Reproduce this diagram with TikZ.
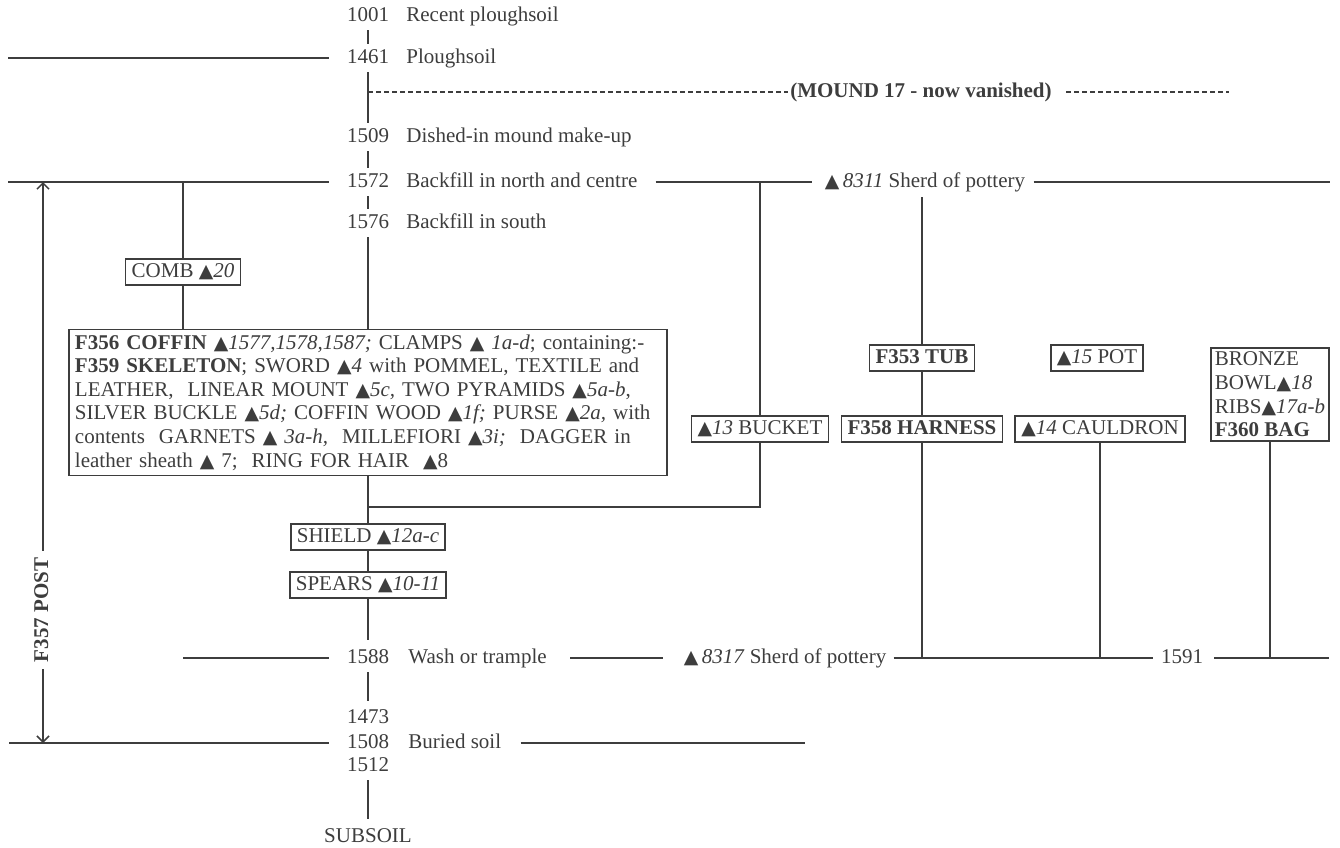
\documentclass[tikz,border=0pt]{standalone}
\usepackage{fontspec}
\setmainfont{Liberation Serif}
\newfontfamily\trifont[Scale=0.9]{DejaVu Sans}
\newcommand{\tri}{{\trifont ▲}}
\usetikzlibrary{arrows.meta}
\definecolor{ink}{gray}{0.24}

\begin{document}
\begin{tikzpicture}[x=0.5pt, y=-0.5pt,
    every node/.style={text=ink, font=\fontsize{10.5}{11.8}\selectfont},
    lbl/.style={inner sep=0pt, text height=7.4pt, text depth=2.2pt},
    num/.style={inner xsep=9pt, inner ysep=2pt, text height=7.4pt, text depth=2.2pt},
    find/.style={draw=ink, line width=0.8pt, inner xsep=3pt, inner ysep=1.6pt, text height=7.4pt, text depth=2.2pt},
    link/.style={draw=ink, line width=0.75pt}]
    \useasboundingbox (0,0) rectangle (1340,847);

    % Context numbers down the main column
    \node[num] (c1001) at (368,16) {1001};
    \node[num] (c1461) at (368,58) {1461};
    \node[num] (c1509) at (368,137) {1509};
    \node[num] (c1572) at (368,182) {1572};
    \node[num] (c1576) at (368,223) {1576};
    \node[num] (c1588) at (368,658) {1588};
    \node[num] (c1473) at (368,718) {1473};
    \node[num] (c1508) at (368,743) {1508};
    \node[num] (c1512) at (368,766) {1512};
    \node[num] (subsoil) at (368,837) {SUBSOIL};
    \node[lbl] (c1591) at (1182,658) {1591};

    % Their descriptions
    \node[lbl,anchor=west] (t1001) at (406,16) {Recent ploughsoil};
    \node[lbl,anchor=west] (t1461) at (406,58) {Ploughsoil};
    \node[lbl,anchor=west] (t1509) at (406,137) {Dished-in mound make-up};
    \node[lbl,anchor=west] (t1572) at (406,182) {Backfill in north and centre};
    \node[lbl,anchor=west] (t1576) at (406,223) {Backfill in south};
    \node[lbl,anchor=west] (t1588) at (408,658) {Wash or trample};
    \node[lbl,anchor=west] (t1508) at (408,743) {Buried soil};

    % Sherds and the vanished mound
    \node[lbl] (s8311) at (925,182) {\tri\,\textit{8311} Sherd of pottery};
    \node[lbl] (s8317) at (785,658) {\tri\,\textit{8317} Sherd of pottery};
    \node[lbl] (mound) at (921,92) {\textbf{(MOUND 17 - now vanished)}};

    % The grave and its finds
    \node[find] (comb) at (183,272) {COMB \tri\textit{20}};
    \node[find, text height=, text depth=, align=left, text width=293pt, inner ysep=2.5pt] (coffin) at (368,402.5) {%
        \textbf{F356 COFFIN}\ \tri\textit{1577,1578,1587;} CLAMPS \tri\ \textit{1a-d}; containing:-\\
        \textbf{F359 SKELETON};\ SWORD \tri\textit{4} with POMMEL, TEXTILE and\\
        LEATHER,\ \ LINEAR MOUNT\ \tri\textit{5c,} TWO PYRAMIDS \tri\textit{5a-b},\\
        SILVER BUCKLE \tri\textit{5d;} COFFIN WOOD \tri\textit{1f;} PURSE \tri\textit{2a,} with\\
        contents\ \ GARNETS \tri\ \textit{3a-h,}\ \ MILLEFIORI \tri\textit{3i;}\ \ DAGGER in\\
        leather sheath \tri\ 7;\ \ RING FOR HAIR\ \ \tri8};
    \node[find] (shield) at (368,537) {SHIELD \tri\textit{12a-c}};
    \node[find] (spears) at (368,585) {SPEARS \tri\textit{10-11}};
    \node[find] (bucket) at (760,429) {\tri\textit{13} BUCKET};
    \node[find] (tub) at (922,358) {\textbf{F353 TUB}};
    \node[find] (harness) at (922,429) {\textbf{F358 HARNESS}};
    \node[find] (pot) at (1097,358) {\tri\textit{15} POT};
    \node[find] (cauldron) at (1100,429) {\tri\textit{14} CAULDRON};
    \node[find, text height=, text depth=, align=left, inner xsep=2pt, inner ysep=2pt] (bag) at (1270,394.5) {%
        BRONZE\\BOWL\tri\textit{18}\\RIBS\tri\textit{17a-b}\\\textbf{F360 BAG}};

    % Free ends of the horizons
    \coordinate (e1461) at (8,58);
    \coordinate (e1572) at (8,182);
    \coordinate (f1572) at (1330,182);
    \coordinate (e1588) at (183,658);
    \coordinate (f1588) at (1329,658);
    \coordinate (e1508) at (9,743);
    \coordinate (f1508) at (805,743);
    \coordinate (mleft) at (368,92);
    \coordinate (mright) at (1229,92);
    \coordinate (jn) at (368,507);

    % Main column
    \draw[link] (c1001) -- (c1461);
    \draw[link] (c1461) -- (c1509);
    \draw[link] (c1509) -- (c1572);
    \draw[link] (c1572) -- (c1576);
    \draw[link] (c1576) -- (coffin);
    \draw[link] (coffin) -- (shield);
    \draw[link] (shield) -- (spears);
    \draw[link, shorten >=2pt] (spears) -- (c1588);
    \draw[link, shorten >=1.5pt] (c1588) -- (c1473);
    \draw[link, shorten >=2pt] (c1512) -- (subsoil);

    % Horizons
    \draw[link] (e1461) -- (c1461.west);
    \draw[link] (e1572) -- (c1572.west);
    \draw[link, shorten <=9pt, shorten >=6.5pt] (t1572.east) -- (s8311.west);
    \draw[link, shorten <=4pt] (s8311.east) -- (f1572);
    \draw[link] (e1588) -- (c1588.west);
    \draw[link, shorten <=11.5pt, shorten >=10pt] (t1588.east) -- (s8317.west);
    \draw[link, shorten <=3.5pt, shorten >=4pt] (s8317.east) -- (c1591.west);
    \draw[link, shorten <=5.5pt] (c1591.east) -- (f1588);
    \draw[link] (e1508) -- (c1508.west);
    \draw[link, shorten <=9.5pt] (t1508.east) -- (f1508);
    \draw[link, dash pattern=on 2.5pt off 1.5pt, shorten >=1pt] (mleft) -- (mound.west);
    \draw[link, dash pattern=on 2.5pt off 1.5pt, shorten <=7pt] (mound.east) -- (mright);

    % Branches off the horizons
    \draw[link] (comb.north) -- (comb.north |- e1572);
    \draw[link] (comb.south) -- (comb.south |- coffin.north);
    \draw[link] (bucket.north) -- (bucket.north |- e1572);
    \draw[link] (bucket.south) -- (bucket.south |- jn) -- (jn);
    \draw[link, shorten >=2.5pt] (tub.north) -- (tub.north |- s8311.south);
    \draw[link] (tub) -- (harness);
    \draw[link] (harness.south) -- (harness.south |- f1588);
    \draw[link] (cauldron.south) -- (cauldron.south |- f1588);
    \draw[link] (bag.south) -- (bag.south |- f1588);

    % Post spanning the cut
    \coordinate (ptop) at (43,182);
    \coordinate (pbot) at (43,743);
    \draw[link, {Straight Barb[length=3pt,width=6pt]}-{Straight Barb[length=3pt,width=6pt]}] (ptop) -- (pbot);
    \node[lbl, rotate=90, fill=white, inner xsep=3.5pt, font=\fontsize{10.5}{11.8}\selectfont\bfseries] (post) at (43,610) {F357 POST};
\end{tikzpicture}
\end{document}
